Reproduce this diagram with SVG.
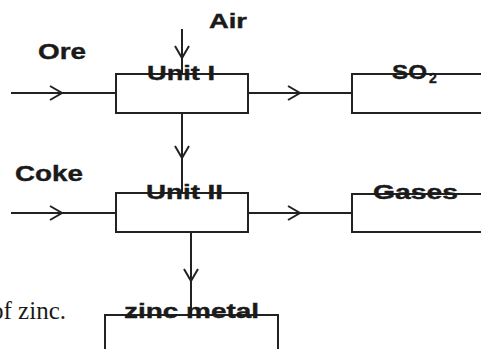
<svg xmlns="http://www.w3.org/2000/svg" width="481" height="349" viewBox="0 0 481 349">
<style>
.box{fill:none;stroke:#222;stroke-width:2}
.con{fill:none;stroke:#222;stroke-width:2;marker-mid:url(#chev)}
.lbl{font-family:"Liberation Sans",Arial,sans-serif;font-weight:bold;fill:#1a1a1a;stroke:#1a1a1a;stroke-width:0.4}
.body{font-family:"Liberation Serif","Times New Roman",serif;fill:#1a1a1a}
</style>
<defs>
<marker id="chev" viewBox="-14 -9 16 18" refX="0" refY="0" markerWidth="16" markerHeight="18" markerUnits="userSpaceOnUse" orient="auto">
<path d="M-12,-7 L0,0 L-12,7" fill="none" stroke="#222" stroke-width="2"/>
</marker>
</defs>
<rect width="481" height="349" fill="#fff"/>
<text class="body" x="66" y="319" font-size="25" text-anchor="end">of zinc.</text>
<g id="connectors">
<path class="con" d="M11,93 H62 H116"/>
<path class="con" d="M182,29 V58 V74"/>
<path class="con" d="M248,93 H300 H352"/>
<path class="con" d="M182,113 V158 V193"/>
<path class="con" d="M11,213 H62 H116"/>
<path class="con" d="M248,213 H300 H352"/>
<path class="con" d="M191,232 V281 V315"/>
</g>
<g id="ore"><text class="lbl" x="38" y="59" font-size="22" textLength="48" lengthAdjust="spacingAndGlyphs">Ore</text></g>
<g id="air"><text class="lbl" x="209" y="28" font-size="20" textLength="38" lengthAdjust="spacingAndGlyphs">Air</text></g>
<g id="coke"><text class="lbl" x="15" y="181" font-size="22" textLength="68" lengthAdjust="spacingAndGlyphs">Coke</text></g>
<g id="unit1">
<rect class="box" x="116" y="74" width="132" height="39"/>
<text class="lbl" x="147" y="80" font-size="21" textLength="68" lengthAdjust="spacingAndGlyphs">Unit I</text>
</g>
<g id="so2">
<rect class="box" x="352" y="74" width="140" height="39"/>
<text class="lbl" font-size="21"><tspan x="392" y="79" textLength="35" lengthAdjust="spacingAndGlyphs">SO</tspan><tspan x="429" y="83" font-size="14">2</tspan></text>
</g>
<g id="unit2">
<rect class="box" x="116" y="193" width="132" height="39"/>
<text class="lbl" x="146" y="199" font-size="21" textLength="77" lengthAdjust="spacingAndGlyphs">Unit II</text>
</g>
<g id="gases">
<rect class="box" x="352" y="194" width="140" height="38"/>
<text class="lbl" x="373" y="199" font-size="21" textLength="85" lengthAdjust="spacingAndGlyphs">Gases</text>
</g>
<g id="zinc">
<rect class="box" x="105" y="315" width="173" height="60"/>
<text class="lbl" x="124" y="318" font-size="21" textLength="135" lengthAdjust="spacingAndGlyphs">zinc metal</text>
</g>
</svg>
